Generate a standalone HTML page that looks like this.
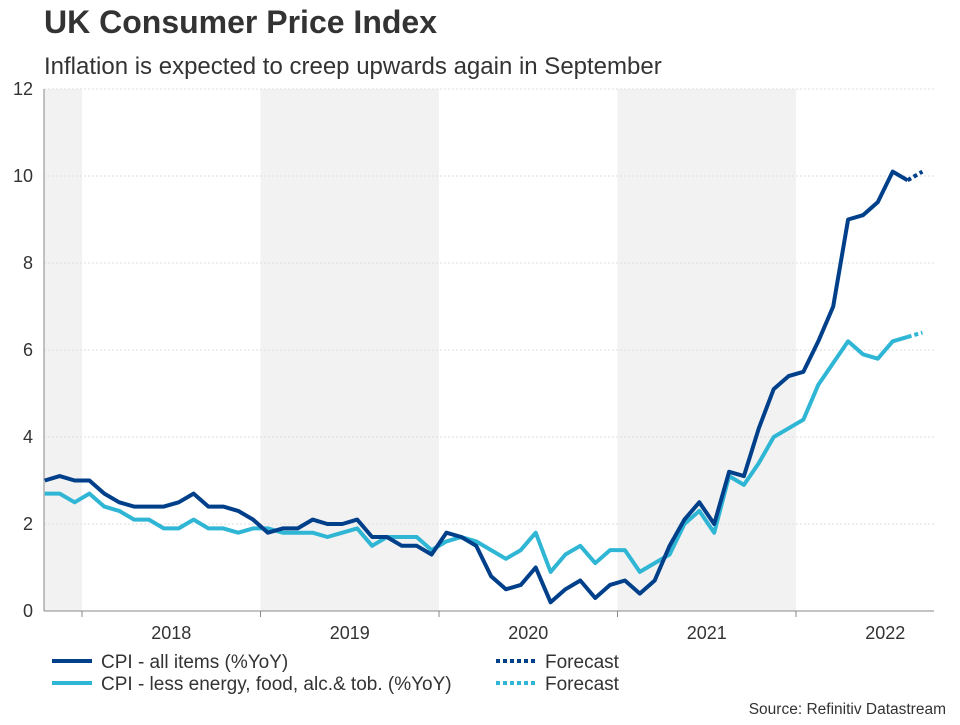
<!DOCTYPE html>
<html><head><meta charset="utf-8"><style>
body{margin:0;background:#fff;font-family:"Liberation Sans",Arial,sans-serif;}
svg text{font-family:"Liberation Sans",Arial,sans-serif;}
</style></head><body>
<svg id="chart" width="960" height="720" xmlns="http://www.w3.org/2000/svg">
<text x="44" y="33" font-size="32" font-weight="bold" fill="#333">UK Consumer Price Index</text>
<text x="44" y="74" font-size="24" fill="#333">Inflation is expected to creep upwards again in September</text>
<g id="bands"></g><g id="grid"></g><g id="axes"></g><g id="series"></g>
<g>
<line x1="52" y1="661" x2="92" y2="661" stroke="#003f8a" stroke-width="4"/>
<text x="101" y="668" font-size="19" fill="#333">CPI - all items (%YoY)</text>
<line x1="52" y1="683" x2="92" y2="683" stroke="#2fb6d5" stroke-width="4"/>
<text x="101" y="690" font-size="19" fill="#333">CPI - less energy, food, alc.&amp; tob. (%YoY)</text>
<line x1="496" y1="661" x2="536" y2="661" stroke="#003f8a" stroke-width="4" stroke-dasharray="4 3"/>
<text x="545" y="668" font-size="19" fill="#333">Forecast</text>
<line x1="496" y1="683" x2="536" y2="683" stroke="#2fb6d5" stroke-width="4" stroke-dasharray="4 3"/>
<text x="545" y="690" font-size="19" fill="#333">Forecast</text>
</g>
<text x="946" y="714" font-size="15.5" fill="#333" text-anchor="end">Source: Refinitiv Datastream</text>
</svg>
<script>
const yTicks=[0,2,4,6,8,10,12];
const years=["2018","2019","2020","2021","2022"];
const cpi=[3.0,3.1,3.0,3.0,2.7,2.5,2.4,2.4,2.4,2.5,2.7,2.4,2.4,2.3,2.1,1.8,1.9,1.9,2.1,2.0,2.0,2.1,1.7,1.7,1.5,1.5,1.3,1.8,1.7,1.5,0.8,0.5,0.6,1.0,0.2,0.5,0.7,0.3,0.6,0.7,0.4,0.7,1.5,2.1,2.5,2.0,3.2,3.1,4.2,5.1,5.4,5.5,6.2,7.0,9.0,9.1,9.4,10.1,9.9];
const core=[2.7,2.7,2.5,2.7,2.4,2.3,2.1,2.1,1.9,1.9,2.1,1.9,1.9,1.8,1.9,1.9,1.8,1.8,1.8,1.7,1.8,1.9,1.5,1.7,1.7,1.7,1.4,1.6,1.7,1.6,1.4,1.2,1.4,1.8,0.9,1.3,1.5,1.1,1.4,1.4,0.9,1.1,1.3,2.0,2.3,1.8,3.1,2.9,3.4,4.0,4.2,4.4,5.2,5.7,6.2,5.9,5.8,6.2,6.3];
const cpiForecast=[10.1];
const coreForecast=[6.4];
const NS="http://www.w3.org/2000/svg";
const X0=44,X1=934,Y0=611,Y1=89,yr0=82,yrW=178.5,mW=yrW/12;
function xm(i){return yr0+(i-3)*mW+mW/2;}
function yv(v){return Y0-(v/12)*(Y0-Y1);}
function mk(tag,attrs,parent){const e=document.createElementNS(NS,tag);for(const k in attrs)e.setAttribute(k,attrs[k]);document.getElementById(parent).appendChild(e);return e;}
[[X0,yr0],[yr0+yrW,yr0+2*yrW],[yr0+3*yrW,yr0+4*yrW]].forEach((b,i)=>{
 const r=mk('rect',{x:b[0],y:Y1,width:b[1]-b[0],height:Y0-Y1,fill:'#f2f2f2'},'bands');
 
 
});
yTicks.forEach(t=>{
 if(t>0){const l=mk('line',{x1:X0,x2:X1,y1:yv(t),y2:yv(t),stroke:'#ddd','stroke-dasharray':'2 2'},'grid');
 
 }
 const tx=mk('text',{x:33,y:yv(t)+6,'font-size':18,fill:'#333','text-anchor':'end'},'axes');
 tx.textContent=t;
 
 
});
let a=mk('line',{x1:X0,x2:X0,y1:Y1,y2:Y0,stroke:'#888'},'axes');


a=mk('line',{x1:X0,x2:X1,y1:Y0,y2:Y0,stroke:'#888'},'axes');


for(let k=0;k<=years.length;k++){const xx=yr0+k*yrW;if(xx<X1){const t=mk('line',{x1:xx,x2:xx,y1:Y0,y2:Y0+6,stroke:'#888'},'axes');
 
 }}
years.forEach((y,k)=>{const t=mk('text',{x:yr0+k*yrW+yrW/2,y:639,'font-size':18,fill:'#333','text-anchor':'middle'},'axes');
 t.textContent=y;
 
 });
function line(arr,start,color,name,dash){
 const d=arr.map((v,i)=>(i?'L':'M')+xm(start+i).toFixed(1)+' '+yv(v).toFixed(1)).join(' ');
 const p=mk('path',{d:d,fill:'none',stroke:color,'stroke-width':4,'stroke-linejoin':'round'},'series');
 if(dash)p.setAttribute('stroke-dasharray',dash);
 
 
}
line(core,0,'#2fb6d5','core-cpi-line');
line(cpi,0,'#003f8a','cpi-line');
line([core[core.length-1]].concat(coreForecast),core.length-1,'#2fb6d5','core-forecast-line','4 3');
line([cpi[cpi.length-1]].concat(cpiForecast),cpi.length-1,'#003f8a','cpi-forecast-line','4 3');
</script>
</body></html>
